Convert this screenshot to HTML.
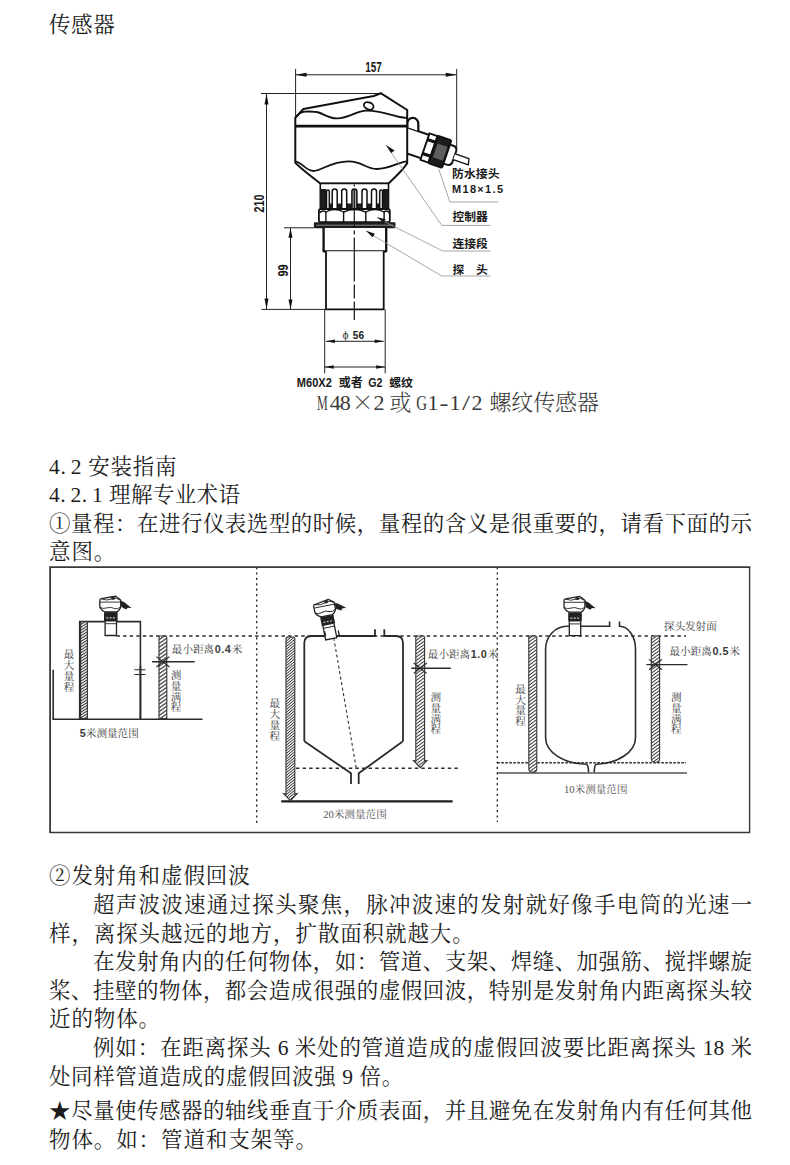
<!DOCTYPE html>
<html lang="zh-CN">
<head>
<meta charset="utf-8">
<title>传感器 安装指南</title>
<style>
html,body{margin:0;padding:0;background:#fff;}
body{width:790px;height:1165px;position:relative;overflow:hidden;
 font-family:"Liberation Serif","Noto Serif CJK SC",serif;color:#1c1c1c;font-weight:400;}
.t{position:absolute;left:49px;width:703px;height:28px;line-height:28px;font-size:21.5px;letter-spacing:.9px;
 white-space:nowrap;margin:0;}
.j{text-align:justify;text-align-last:justify;letter-spacing:0;}
.i{left:93px;width:659px;}
.p{letter-spacing:5px;}
svg{position:absolute;left:0;top:0;}
</style>
</head>
<body>
<p class="t" style="top:11px;left:49px;letter-spacing:.6px">传感器</p>
<p class="t" style="top:453px;letter-spacing:.7px">4<span class="p">.</span>2 安装指南</p>
<p class="t" style="top:481px;letter-spacing:.4px">4<span class="p">.</span>2<span class="p">.</span>1 理解专业术语</p>
<p class="t j" style="top:510px">①量程：在进行仪表选型的时候，量程的含义是很重要的，请看下面的示</p>
<p class="t" style="top:538px">意图。</p>

<p class="t" style="top:862px">②发射角和虚假回波</p>
<p class="t j i" style="top:891px">超声波波速通过探头聚焦，脉冲波速的发射就好像手电筒的光速一</p>
<p class="t" style="top:920px">样，离探头越远的地方，扩散面积就越大。</p>
<p class="t j i" style="top:948px">在发射角内的任何物体，如：管道、支架、焊缝、加强筋、搅拌螺旋</p>
<p class="t j" style="top:977px">桨、挂壁的物体，都会造成很强的虚假回波，特别是发射角内距离探头较</p>
<p class="t" style="top:1005px">近的物体。</p>
<p class="t j i" style="top:1034px">例如：在距离探头 6 米处的管道造成的虚假回波要比距离探头 18 米</p>
<p class="t" style="top:1063px;letter-spacing:.6px">处同样管道造成的虚假回波强 9 倍。</p>
<p class="t j" style="top:1097px">★尽量使传感器的轴线垂直于介质表面，并且避免在发射角内有任何其他</p>
<p class="t" style="top:1126px">物体。如：管道和支架等。</p>

<svg width="790" height="1165" viewBox="0 0 790 1165">

<!-- ===== Diagram 1 : sensor outline drawing ===== -->
<g id="d1" fill="none" stroke="#111" stroke-linecap="butt" stroke-linejoin="round">
 <!-- thin dimension / extension lines -->
 <g stroke="#222" stroke-width="1">
  <path d="M295.6 69V116M456.7 69V147.8M295.6 74.8H456.7"/>
  <path d="M261 93.5H381.6M266.5 93.5V309.4M261.4 309.4H326"/>
  <path d="M284 227.8H314M290.5 227.8V309.4"/>
  <path d="M324.7 309.4V373.4M385.2 309.4V373.4M326 341.3H383.7M324.7 367H385.2"/>
 </g>
 <!-- arrow heads -->
 <g fill="#111" stroke="none">
  <path d="M295.6 74.8l11-2v4zM456.7 74.8l-11-2v4z"/>
  <path d="M266.5 93.5l-2 11h4zM266.5 309.4l-2-11h4z"/>
  <path d="M290.5 227.8l-2 10h4zM290.5 309.4l-2-10h4z"/>
  <path d="M326 341.3l9-1.8v3.6zM383.7 341.3l-9-1.8v3.6z"/>
  <path d="M324.7 367l9-1.8v3.6zM385.2 367l-9-1.8v3.6z"/>
 </g>
 <!-- cable gland -->
 <g transform="translate(407 140.4) rotate(19)" stroke-width="1.9">
  <path d="M-8 -12.4H21V12.4H-8" fill="#fff"/>
  <rect x="19" y="-14" width="8.5" height="28" fill="#fff"/>
  <path d="M19 -9h8.5v3.2h-8.5zM19 5.8h8.5v3.2h-8.5z" fill="#111" stroke="none"/>
  <rect x="27.5" y="-14.5" width="14.5" height="29" rx="1.5" fill="#1c1c1c"/>
  <rect x="30" y="-7" width="10.5" height="14.5" fill="#5e5e5e" stroke="none"/>
  <path d="M42 -10H45.5Q50 -10 50 -5.5V5.5Q50 10 45.5 10H42Z" fill="#fff"/>
  <path d="M50 -3H64.5L66 3.2H50" fill="#fff" stroke-width="1.3"/>
 </g>
 <!-- ear -->
 <path d="M407.3 127V123.4A5.5 5.5 0 0 1 418.3 123.4V131" fill="#fff" stroke-width="2.2"/>
 <!-- head -->
 <path d="M295.3 117.8L303.4 109L373.7 96L380.7 93.2L407.2 110V163Q404 169 388.5 183.5H320.3Q300 168 295.3 162.7Z" fill="#fff" stroke-width="2"/>
 <path d="M295.3 126.1H407.2" stroke-width="2.6"/>
 <path d="M295.5 117.5C298 114 301 111.8 305 111.6C312 111.3 316 111.5 320 113C326 115.5 330 118.5 337 118.4C350 118 356 110.8 366 110.6C378 110.5 388 113.8 398.5 116.8Q404 118 407 117.8" stroke-width="1.9"/>
 <path d="M295.3 161.4C303 163 306 171 313.3 171C322 171 330 161.4 348.7 161.4C362 161.4 366 169 376.6 169C390 169 398 162 407.2 161.4" stroke-width="1.8"/>
 <ellipse cx="368.7" cy="105.9" rx="5" ry="3.5" transform="rotate(22 368.7 105.9)" stroke-width="1.8"/>
 <!-- ribbed neck -->
 <rect x="320.3" y="183.5" width="68.2" height="25.7" fill="#fff" stroke-width="1.6"/>
 <path d="M320.3 189H326V209H320.3zM383 189H388.5V209H383z" fill="#1c1c1c" stroke="none"/>
 <rect x="326" y="203.5" width="57" height="5.5" fill="#1c1c1c" stroke="none"/>
 <g stroke-width="1.5" fill="#fff">
  <path d="M326.5 208V191.5A1.4 1.4 0 0 1 329.3 191.5V208"/>
  <path d="M332.2 208V191.5A2.5 2.5 0 0 1 337.2 191.5V208"/>
  <path d="M341.7 208V191.5A2.5 2.5 0 0 1 346.7 191.5V208"/>
  <path d="M351.9 208V191.5A2.5 2.5 0 0 1 356.9 191.5V208" fill="#aaa"/>
  <path d="M362 208V191.5A2.5 2.5 0 0 1 367 191.5V208"/>
  <path d="M371.5 208V191.5A2.5 2.5 0 0 1 376.5 191.5V208"/>
  <path d="M379.7 208V191.5A1.4 1.4 0 0 1 382.5 191.5V208"/>
 </g>
 <!-- hex nut -->
 <rect x="318.9" y="209.2" width="70.9" height="13" rx="1.5" fill="#fff" stroke-width="1.8"/>
 <g stroke-width="1.4">
  <path d="M325.9 212V222M343.6 212V222M365.8 212V222M384.1 212V222"/>
  <path d="M319.5 213Q322.5 209.5 325.9 212Q334.5 207 343.6 212Q354.5 207 365.8 212Q375 207 384.1 212Q387 209.5 389.3 213"/>
 </g>
 <!-- flange -->
 <rect x="313.9" y="222.3" width="81.6" height="5.9" rx="1.2" fill="#1c1c1c" stroke="none"/>
 <path d="M316 225.2H393.5" stroke="#8c8c8c" stroke-width="1"/>
 <!-- probe -->
 <path d="M323.6 228V251.3H386.2V228" fill="#fff" stroke-width="2.3"/>
 <path d="M326 251.3V309.4H383.7V251.3" fill="#fff" stroke-width="1.8"/>
 <path d="M354.3 184.5V320" stroke-width="1.2" stroke-dasharray="2 3 38 3 4 3 44 3 14 3 30"/>
 <!-- leader lines -->
 <g stroke="#969696" stroke-width="0.85">
  <path d="M438.7 169L449.9 202H498.5"/>
  <path d="M388 148L441.8 225.4H490.4"/>
  <path d="M380 219.5L442.8 251H490.4"/>
  <path d="M369 233L441.8 276H490.4"/>
 </g>
 <!-- leader arrow heads -->
 <g fill="#111" stroke="none">
  <path d="M385.6 144.8l9 5.6-3.4 2.6z"/>
  <path d="M376.5 217l9.2 2.2-1.8 3.6z"/>
  <path d="M365.6 230.6l9.2 3.2-2.2 3.4z"/>
 </g>
</g>
<!-- diagram 1 text -->
<g font-family='"Liberation Sans","Noto Sans CJK SC",sans-serif' font-weight="700" fill="#1a1a1a">
 <text x="365.2" y="72.4" font-size="14" textLength="16.5" lengthAdjust="spacingAndGlyphs">157</text>
 <text transform="translate(263.6 212.4) rotate(-90)" font-size="14" textLength="18" lengthAdjust="spacingAndGlyphs">210</text>
 <text transform="translate(287.8 276.6) rotate(-90)" font-size="14" textLength="12.2" lengthAdjust="spacingAndGlyphs">99</text>
 <text x="342.5" y="338.8" font-size="11" font-weight="400" fill="#444">ϕ</text>
 <text x="352.8" y="338.8" font-size="11.5" textLength="11.2" lengthAdjust="spacingAndGlyphs">56</text>
 <text x="296.8" y="386.6" font-size="12" textLength="35" lengthAdjust="spacingAndGlyphs">M60X2</text>
 <text x="338.8" y="386.8" font-size="12">或者</text>
 <text x="368.3" y="386.6" font-size="12" textLength="14.2" lengthAdjust="spacingAndGlyphs">G2</text>
 <text x="389.2" y="386.8" font-size="11.8">螺纹</text>
 <text x="452" y="178.3" font-size="11.9">防水接头</text>
 <text x="452" y="193" font-size="11" textLength="51" lengthAdjust="spacing">M18×1.5</text>
 <text x="452.5" y="221.3" font-size="11.8">控制器</text>
 <text x="452.5" y="247.5" font-size="11.8">连接段</text>
 <text x="452.5" y="273.5" font-size="11.8">探</text>
 <text x="476" y="273.5" font-size="11.8">头</text>
</g>
<g font-family='"Liberation Serif","Noto Serif CJK SC",serif' font-weight="300" font-size="22" fill="#3a3a3a">
 <text x="317" y="409.5" textLength="10.8" lengthAdjust="spacingAndGlyphs">M</text>
 <text x="329.8" y="409.5" textLength="21" lengthAdjust="spacing">48</text>
 <text x="351.5" y="410" font-family='"Noto Serif CJK SC",serif'>×</text>
 <text x="373.5" y="409.5">2</text>
 <text x="389.5" y="410">或</text>
 <text x="416.3" y="409.5" textLength="10.8" lengthAdjust="spacingAndGlyphs">G</text>
 <text x="427.5" y="409.5">1</text>
 <text x="439.5" y="409.5" textLength="9" lengthAdjust="spacingAndGlyphs">-</text>
 <text x="449.5" y="409.5">1</text>
 <text x="462" y="409.5" textLength="8" lengthAdjust="spacingAndGlyphs">/</text>
 <text x="471.5" y="409.5">2</text>
 <text x="489.5" y="410" textLength="109.5" lengthAdjust="spacing">螺纹传感器</text>
</g>

<g id="frame" fill="none" stroke="#3a3a3a"><path d="M50.1 833.1V567.2H750.3" stroke-width="1.8"/><path d="M749.6 567.2V832.5H50.1" stroke-width="1.4"/></g>
<!-- ===== Diagram 2 : three measuring-range sketches ===== -->
<defs>
<pattern id="h1" width="8" height="3.1" patternUnits="userSpaceOnUse" patternTransform="rotate(-35)"><rect width="8" height="3.1" fill="#fff"/><path d="M0 1.5H8" stroke="#333" stroke-width="1.2"/></pattern>
<pattern id="h3" width="8" height="2.7" patternUnits="userSpaceOnUse" patternTransform="rotate(-36)"><rect width="8" height="2.7" fill="#fff"/><path d="M0 1.3H8" stroke="#2a2a2a" stroke-width="0.95"/></pattern>
<pattern id="h4" width="8" height="2.4" patternUnits="userSpaceOnUse" patternTransform="rotate(-32)"><rect width="8" height="2.4" fill="#fff"/><path d="M0 1.2H8" stroke="#2a2a2a" stroke-width="1.05"/></pattern>
<pattern id="h2" width="8" height="2.1" patternUnits="userSpaceOnUse" patternTransform="rotate(-40)"><rect width="8" height="2.1" fill="#fff"/><path d="M0 1H8" stroke="#2a2a2a" stroke-width="0.85"/></pattern>


</defs>
<g id="d2" fill="none" stroke="#2b2b2b" stroke-width="1.4">
<path d="M256.7 567V826M497.3 567V822" stroke="#333" stroke-width="1.4" stroke-dasharray="2.2 3.2"/>
<path d="M116.5 636H686" stroke="#2a2a2a" stroke-width="1.5" stroke-dasharray="3.4 3.2"/>
<path d="M296 768.2H460.5" stroke="#2a2a2a" stroke-width="1.4" stroke-dasharray="3.4 3.2"/>
<path d="M497.3 762.8H686" stroke="#2a2a2a" stroke-width="1.6" stroke-dasharray="2.5 1.5"/>
<path d="M53.2 669.7V719.2H202.5" stroke-width="1.6"/>
<path d="M79.8 719.2V621.6H140.4V666" stroke-width="1.6"/><path d="M80 719.2V621.6" stroke-width="2.2"/>
<path d="M140.4 666V719.2" stroke-width="2.1"/>
<path d="M134.3 669.8H145.4M134.3 674.5H145.4" stroke-width="1.1"/>
<path d="M80.6 718.6V623.3Q80.6 621.8 82.1 621.8H85.9Q87.4 621.8 87.4 623.3V718.6Z" fill="url(#h4)" stroke="#333" stroke-width="1.1"/>
<path d="M159 718.6V637.5Q159 636 160.5 636H165.3Q166.8 636 166.8 637.5V718.6Z" fill="url(#h1)" stroke="#333" stroke-width="1.1"/>
<path d="M152 661.8H194.6" stroke-width="1.4"/><path d="M156.4 656.6L162.9 661.8L169.4 656.6M156.4 667.0L162.9 661.8L169.4 667.0" stroke-width="1.2"/>
<g transform="translate(110.8 635.5)"><path d="M-5.7 -14.2V0H5.7V-14.2" fill="#fff" stroke="#222" stroke-width="1.3"/>
 <path d="M-5.7 -11.8H5.7" stroke="#222" stroke-width="0.9"/>
 <rect x="-6.8" y="-23.3" width="13.6" height="9.1" fill="#222" stroke="none"/>
 <path d="M-4.5 -17.6H4.8" stroke="#eee" stroke-width="1" stroke-dasharray="2 1.3"/>
 <path d="M-5.8 -23.5Q-11 -26 -11 -29.5V-35Q-11 -36.6 -9.5 -36.8L3.3 -39L4.8 -39.2L9.9 -35.4V-29.5Q9.9 -26 6 -23.5Z" fill="#fff" stroke="#222" stroke-width="1.3"/>
 <path d="M-11 -33.4H9.9M-9.5 -36.6Q-4 -34.5 1 -36.5T9.5 -35.3M-11 -28.3Q-8 -26.2 -4 -27.6T3 -27.2T9.9 -28.4" fill="none" stroke="#222" stroke-width="0.9"/>
 <ellipse cx="2.2" cy="-37.3" rx="1.3" ry="0.9" fill="#222"/>
 <path d="M9.9 -34.6L12.8 -33.8L17.6 -30L20.8 -27.4L17 -27.7L15.3 -25.9L10.6 -28.4Z" fill="#222" stroke="none"/></g>
<path d="M304.3 741.3V643Q304.3 636 311.5 636H375V629.2M384.3 629.2V636H396Q403 636 403 643V741.3" stroke-width="1.8"/>
<path d="M304.3 741.3L351 773.3V784M403 741.3L358.7 773.3V784" stroke-width="1.8"/>
<path d="M333.8 638L356.2 768" stroke="#333" stroke-width="1.1" stroke-dasharray="3 2.6"/>
<path d="M281.3 801.4H452.6" stroke-width="2.1" stroke="#1e1e1e"/>
<path d="M286 794.1V638.5Q286 637 287.5 637H293.3Q294.8 637 294.8 638.5V794.1L297.1 793.6L290.4 800.6L283.7 793.6Z" fill="url(#h2)" stroke="#333" stroke-width="1.1"/>
<path d="M415.8 761.1V637.5Q415.8 636 417.3 636H423.1Q424.6 636 424.6 637.5V761.1L426.90000000000003 760.6L420.20000000000005 767.6L413.5 760.6Z" fill="url(#h3)" stroke="#333" stroke-width="1.1"/>
<path d="M411.3 668.2H450.8" stroke-width="1.4"/><path d="M413.7 663.0L420.2 668.2L426.7 663.0M413.7 673.4L420.2 668.2L426.7 673.4" stroke-width="1.2"/>
<g transform="translate(331.2 638.8) rotate(-11)"><path d="M-5.7 -14.2V0H5.7V-14.2" fill="#fff" stroke="#222" stroke-width="1.3"/>
 <path d="M-5.7 -11.8H5.7" stroke="#222" stroke-width="0.9"/>
 <rect x="-6.8" y="-23.3" width="13.6" height="9.1" fill="#222" stroke="none"/>
 <path d="M-4.5 -17.6H4.8" stroke="#eee" stroke-width="1" stroke-dasharray="2 1.3"/>
 <path d="M-5.8 -23.5Q-11 -26 -11 -29.5V-35Q-11 -36.6 -9.5 -36.8L3.3 -39L4.8 -39.2L9.9 -35.4V-29.5Q9.9 -26 6 -23.5Z" fill="#fff" stroke="#222" stroke-width="1.3"/>
 <path d="M-11 -33.4H9.9M-9.5 -36.6Q-4 -34.5 1 -36.5T9.5 -35.3M-11 -28.3Q-8 -26.2 -4 -27.6T3 -27.2T9.9 -28.4" fill="none" stroke="#222" stroke-width="0.9"/>
 <ellipse cx="2.2" cy="-37.3" rx="1.3" ry="0.9" fill="#222"/>
 <path d="M9.9 -34.6L12.8 -33.8L17.6 -30L20.8 -27.4L17 -27.7L15.3 -25.9L10.6 -28.4Z" fill="#222" stroke="none"/></g>
<path d="M324.6 631.5L325.6 636M338.2 630.5L339.4 636" stroke-width="1.4"/>
<path d="M545.6 738V649A21.5 22.7 0 0 1 567 626.3H609.6V621.4M619.5 621.4V626.3A16 22.7 0 0 1 635.5 649V738" stroke-width="1.6"/>
<path d="M545.6 738A42 26.5 0 0 0 586.5 764.3Q588.4 765 588.6 772.5M635.5 738A42 26.5 0 0 1 596.2 764.3Q594.4 765 594.2 772.5" stroke-width="1.6"/>
<path d="M497.3 773H687" stroke="#555" stroke-width="1.3"/>
<path d="M528.8 768.5V637.5Q528.8 636 530.3 636H535.3Q536.8 636 536.8 637.5V768.5Q536.8 772.3 532.8 772.3T528.8 768.5Z" fill="url(#h3)" stroke="#333" stroke-width="1.1"/>
<path d="M651.3 758.5V637.5Q651.3 636 652.8 636H658.1Q659.6 636 659.6 637.5V758.5Q659.6 762.3 655.45 762.3T651.3 758.5Z" fill="url(#h3)" stroke="#333" stroke-width="1.1"/>
<path d="M646.4 664.6H687.5" stroke-width="1.4"/><path d="M649.0 659.4L655.5 664.6L662.0 659.4M649.0 669.8L655.5 664.6L662.0 669.8" stroke-width="1.2"/>
<g transform="translate(575 635.7)"><path d="M-5.7 -14.2V0H5.7V-14.2" fill="#fff" stroke="#222" stroke-width="1.3"/>
 <path d="M-5.7 -11.8H5.7" stroke="#222" stroke-width="0.9"/>
 <rect x="-6.8" y="-23.3" width="13.6" height="9.1" fill="#222" stroke="none"/>
 <path d="M-4.5 -17.6H4.8" stroke="#eee" stroke-width="1" stroke-dasharray="2 1.3"/>
 <path d="M-5.8 -23.5Q-11 -26 -11 -29.5V-35Q-11 -36.6 -9.5 -36.8L3.3 -39L4.8 -39.2L9.9 -35.4V-29.5Q9.9 -26 6 -23.5Z" fill="#fff" stroke="#222" stroke-width="1.3"/>
 <path d="M-11 -33.4H9.9M-9.5 -36.6Q-4 -34.5 1 -36.5T9.5 -35.3M-11 -28.3Q-8 -26.2 -4 -27.6T3 -27.2T9.9 -28.4" fill="none" stroke="#222" stroke-width="0.9"/>
 <ellipse cx="2.2" cy="-37.3" rx="1.3" ry="0.9" fill="#222"/>
 <path d="M9.9 -34.6L12.8 -33.8L17.6 -30L20.8 -27.4L17 -27.7L15.3 -25.9L10.6 -28.4Z" fill="#222" stroke="none"/></g>
</g>
<g font-family='"Liberation Serif","Noto Serif CJK SC",serif' font-size="10.6" fill="#3c3c3c" font-weight="400">
<text x="171.8" y="653.2">最小距离<tspan font-family='"Liberation Sans",sans-serif' font-weight="700" font-size="10.8" dx="0.5" letter-spacing="0.5">0.4</tspan><tspan dx="0.5">米</tspan></text>
<text x="427.8" y="657.6">最小距离<tspan font-family='"Liberation Sans",sans-serif' font-weight="700" font-size="10.8" dx="0.5" letter-spacing="0.5">1.0</tspan><tspan dx="0.5">米</tspan></text>
<text x="669.5" y="655">最小距离<tspan font-family='"Liberation Sans",sans-serif' font-weight="700" font-size="10.8" dx="0.5" letter-spacing="0.5">0.5</tspan><tspan dx="0.5">米</tspan></text>
<text x="663.8" y="630">探头发射面</text>
<text x="79.8" y="736.5"><tspan font-family='"Liberation Sans",sans-serif' font-weight="700" font-size="10.8">5</tspan>米测量范围</text>
<text x="323.2" y="818" fill="#555">20米测量范围</text>
<text x="564" y="792.5" fill="#555">10米测量范围</text>
<text x="63.8" y="658.4">最</text><text x="63.8" y="669.1">大</text><text x="63.8" y="679.8">量</text><text x="63.8" y="690.5">程</text>
<text x="170.7" y="679.2">测</text><text x="170.7" y="689.9">量</text><text x="170.7" y="700.6">满</text><text x="170.7" y="711.3">程</text>
<text x="269.5" y="706.5">最</text><text x="269.5" y="717.6">大</text><text x="269.5" y="728.7">量</text><text x="269.5" y="739.8">程</text>
<text x="430.4" y="701.2">测</text><text x="430.4" y="711.9">量</text><text x="430.4" y="722.6">满</text><text x="430.4" y="733.3">程</text>
<text x="515.3" y="693.0">最</text><text x="515.3" y="703.7">大</text><text x="515.3" y="714.4">量</text><text x="515.3" y="725.1">程</text>
<text x="671" y="701.2">测</text><text x="671" y="711.9">量</text><text x="671" y="722.6">满</text><text x="671" y="733.3">程</text>
</g>
</svg>
</body>
</html>
